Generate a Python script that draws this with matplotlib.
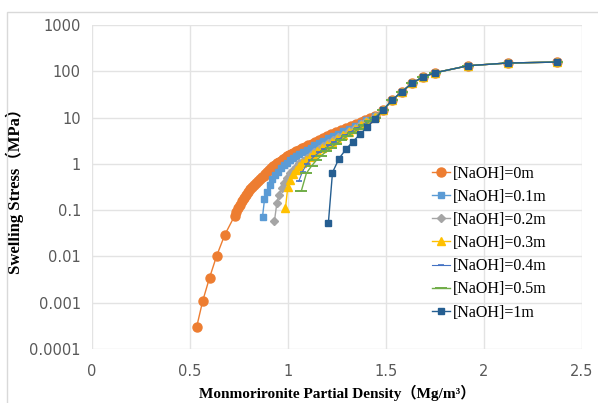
import matplotlib.pyplot as plt
from matplotlib.patches import Rectangle

# density (Mg/m3) and swelling stress (MPa) per NaOH concentration
tail_x = [1.486, 1.532, 1.58, 1.635, 1.69, 1.75, 1.92, 2.12, 2.37]
tail_y = [14.7, 24, 36, 56, 76, 93, 132, 151, 158]

x_0m = [0.534, 0.565, 0.600, 0.636, 0.677, 0.728, 0.735, 0.745, 0.755, 0.765,
        0.775, 0.785, 0.795, 0.805, 0.815, 0.825, 0.835, 0.845, 0.855, 0.865,
        0.875, 0.885, 0.895, 0.905, 0.915, 0.925, 0.935, 0.945, 0.955, 0.965,
        0.975, 0.985, 0.995, 1.005, 1.015, 1.025, 1.04, 1.055, 1.07, 1.085,
        1.10, 1.12, 1.14, 1.16, 1.18, 1.20, 1.22, 1.245, 1.27, 1.295,
        1.32, 1.345, 1.37, 1.395, 1.42, 1.445] + tail_x
y_0m = [0.0003, 0.0011, 0.0035, 0.0103, 0.029, 0.076, 0.089, 0.11, 0.13, 0.155,
        0.18, 0.21, 0.245, 0.28, 0.31, 0.35, 0.385, 0.42, 0.46, 0.51,
        0.56, 0.61, 0.67, 0.74, 0.82, 0.89, 0.955, 1.02, 1.10, 1.17,
        1.26, 1.35, 1.45, 1.55, 1.64, 1.74, 1.88, 2.04, 2.19, 2.34,
        2.51, 2.75, 3.02, 3.31, 3.63, 3.98, 4.37, 4.9, 5.43, 6.03,
        6.6, 7.24, 8.13, 8.9, 9.9, 11.0] + tail_y

x_01m = [0.870, 0.880, 0.892, 0.906, 0.920, 0.935, 0.950, 0.965, 0.980, 0.995,
         1.010, 1.025, 1.040, 1.058, 1.076, 1.095, 1.115, 1.135, 1.158, 1.18,
         1.205, 1.23, 1.255, 1.28, 1.31, 1.34, 1.37, 1.40, 1.445] + tail_x
y_01m = [0.072, 0.17, 0.25, 0.35, 0.46, 0.57, 0.68, 0.80, 0.93, 1.06,
         1.20, 1.34, 1.49, 1.66, 1.83, 2.02, 2.25, 2.5, 2.8, 3.15,
         3.55, 4.0, 4.5, 5.1, 5.8, 6.7, 7.7, 8.9, 11.0] + tail_y

x_02m = [0.931, 0.943, 0.953, 0.968, 0.980, 0.995, 1.010, 1.025, 1.040, 1.058,
         1.076, 1.095, 1.115, 1.135, 1.158, 1.18, 1.205, 1.23, 1.255, 1.28,
         1.31, 1.34, 1.37, 1.40, 1.445] + tail_x
y_02m = [0.059, 0.14, 0.21, 0.30, 0.39, 0.50, 0.62, 0.74, 0.87, 1.02,
         1.18, 1.36, 1.57, 1.8, 2.08, 2.4, 2.8, 3.25, 3.75, 4.3,
         5.1, 6.0, 7.1, 8.4, 10.7] + tail_y

x_03m = [0.987, 0.999, 1.012, 1.025, 1.040, 1.056, 1.073, 1.09, 1.11, 1.13,
         1.15, 1.175, 1.20, 1.225, 1.25, 1.28, 1.31, 1.34, 1.37, 1.40,
         1.445] + tail_x
y_03m = [0.11, 0.32, 0.45, 0.60, 0.74, 0.88, 1.03, 1.2, 1.4, 1.62,
         1.87, 2.2, 2.6, 3.0, 3.5, 4.1, 4.9, 5.8, 6.9, 8.2,
         10.5] + tail_y

x_04m = [1.055, 1.074, 1.095, 1.115, 1.135, 1.16, 1.185, 1.21, 1.235, 1.26,
         1.29, 1.32, 1.35, 1.38, 1.41, 1.445] + tail_x
y_04m = [0.42, 0.68, 0.98, 1.22, 1.47, 1.78, 2.1, 2.5, 2.95, 3.45,
         4.1, 4.9, 5.9, 7.0, 8.4, 10.3] + tail_y

x_05m = [1.068, 1.094, 1.12, 1.145, 1.17, 1.195, 1.22, 1.245, 1.27, 1.30,
         1.33, 1.36, 1.39, 1.42, 1.445] + tail_x
y_05m = [0.26, 0.63, 0.9, 1.2, 1.5, 1.85, 2.25, 2.7, 3.2, 3.9,
         4.7, 5.7, 6.9, 8.4, 9.9] + tail_y

x_1m = [1.206, 1.227, 1.26, 1.297, 1.33, 1.369, 1.405, 1.445] + tail_x
y_1m = [0.053, 0.65, 1.3, 2.1, 3.0, 4.4, 6.3, 9.4] + tail_y

labels = ['[NaOH]=0m', '[NaOH]=0.1m', '[NaOH]=0.2m', '[NaOH]=0.3m',
          '[NaOH]=0.4m', '[NaOH]=0.5m', '[NaOH]=1m']
x_ticks = [0, 0.5, 1, 1.5, 2, 2.5]
y_ticks = [0.0001, 0.001, 0.01, 0.1, 1, 10, 100, 1000]
y_tick_labels = ['0.0001', '0.001', '0.01', '0.1', '1', '10', '100', '1000']

fig = plt.figure(figsize=(5.98, 4.03), dpi=100)
fig.patches.append(Rectangle((7 / 598, -0.05), 600 / 598, (403 - 12) / 403 + 0.05,
                             transform=fig.transFigure, fill=False,
                             edgecolor='#D9D9D9', linewidth=1))
ax = fig.add_axes([92 / 598, 1 - 349 / 403, 490 / 598, 324 / 403])

ax.plot(x_0m, y_0m, color='#ED7D31', marker='o', markersize=6.5, lw=1, label=labels[0])
ax.plot(x_01m, y_01m, color='#5B9BD5', marker='s', markersize=5, lw=1, label=labels[1])
ax.plot(x_02m, y_02m, color='#A5A5A5', marker='D', markersize=4, lw=1, label=labels[2])
ax.plot(x_03m, y_03m, color='#FFC000', marker='^', markersize=6, lw=1, label=labels[3])
ax.plot(x_04m, y_04m, color='#4472C4', marker='_', markersize=5, mew=1.2, lw=0.8, label=labels[4])
ax.plot(x_05m, y_05m, color='#70AD47', marker='_', markersize=8, mew=1.4, lw=1, label=labels[5])
ax.plot(x_1m, y_1m, color='#255E91', marker='s', markersize=5, lw=1, label=labels[6])

ax.set_yscale('log')
ax.set_xlim(0, 2.5)
ax.set_ylim(0.0001, 1000)
ax.set_xticks(x_ticks)
ax.set_xticklabels([f'{t:g}' for t in x_ticks])
ax.set_yticks(y_ticks)
ax.set_yticklabels(y_tick_labels)
ax.minorticks_off()
ax.tick_params(length=0, labelsize=10.5, labelcolor='#595959')
ax.tick_params(axis='x', pad=11)
ax.tick_params(axis='y', pad=8)
for s in ax.spines.values():
    s.set_visible(False)
ax.grid(True, color='#E3E3E3', lw=1)
ax.set_axisbelow(True)

lab_font = dict(family=['Liberation Serif', 'Noto Sans CJK JP'], weight='bold')
ax.set_xlabel('Monmorironite Partial Density（Mg/m³）', labelpad=4, size=11, **lab_font)
ax.set_ylabel('Swelling Stress（MPa）', labelpad=4, size=12, **lab_font)

ax.legend(loc='upper left', bbox_to_anchor=(0.699, 0.625), bbox_transform=fig.transFigure,
          frameon=False, handlelength=1.1, handletextpad=0.2, labelspacing=0.45,
          prop={'family': 'Liberation Serif', 'size': 11.5})

fig.savefig('out.png', dpi=100)
